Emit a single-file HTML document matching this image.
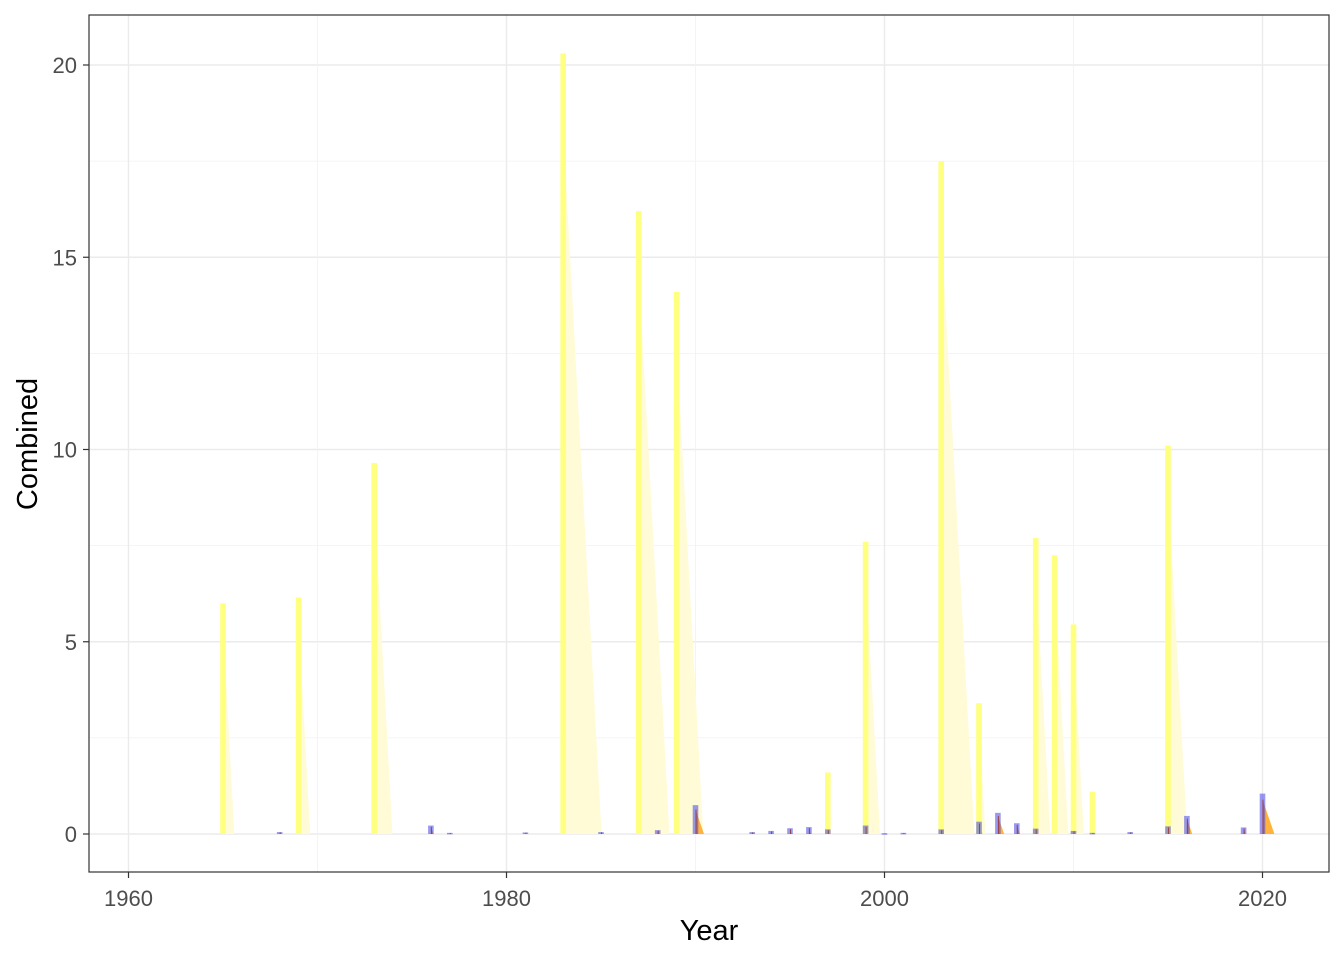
<!DOCTYPE html>
<html><head><meta charset="utf-8"><style>
body{margin:0;background:#fff;}
svg{display:block;font-family:"Liberation Sans",Arial,sans-serif;}
</style></head><body>
<svg id="chart" width="1344" height="960"></svg>
<script>
const yellowYears=[1965,1969,1973,1983,1987,1989,1997,1999,2003,2005,2008,2009,2010,2011,2015];
const yellowVals=[6.0,6.15,9.65,20.3,16.2,14.1,1.6,7.6,17.5,3.4,7.7,7.25,5.45,1.1,10.1];
const blueYears=[1968,1976,1977,1981,1985,1988,1990,1993,1994,1995,1996,1997,1999,2000,2001,2003,2005,2006,2007,2008,2010,2011,2013,2015,2016,2019,2020];
const blueVals=[0.05,0.22,0.03,0.04,0.05,0.1,0.75,0.05,0.08,0.15,0.18,0.12,0.22,0.02,0.03,0.12,0.32,0.55,0.28,0.14,0.08,0.03,0.05,0.2,0.47,0.17,1.05];
const xTicks=[1960,1980,2000,2020];
const yTicks=[0,5,10,15,20];

const svg=document.getElementById('chart');
const NS='http://www.w3.org/2000/svg';
const L=89,R=1329,T=15,B=872;
const x=v=>128.5+(v-1960)*18.9;
const y=v=>834-v*38.45;
function mk(tag,attrs,parent){const e=document.createElementNS(NS,tag);for(const k in attrs)e.setAttribute(k,attrs[k]);(parent||svg).appendChild(e);return e;}

const grid=mk('g',{});


for(let i=0;i<yTicks.length;i++){
  mk('line',{x1:L,x2:R,y1:y(yTicks[i]),y2:y(yTicks[i]),stroke:'#ebebeb','stroke-width':1.4},grid);
  if(i<yTicks.length-1){const m=(yTicks[i]+yTicks[i+1])/2;mk('line',{x1:L,x2:R,y1:y(m),y2:y(m),stroke:'#f2f2f2','stroke-width':0.8},grid);}
}
for(let i=0;i<xTicks.length;i++){
  mk('line',{x1:x(xTicks[i]),x2:x(xTicks[i]),y1:T,y2:B,stroke:'#ebebeb','stroke-width':1.4},grid);
  if(i<xTicks.length-1){const m=(xTicks[i]+xTicks[i+1])/2;mk('line',{x1:x(m),x2:x(m),y1:T,y2:B,stroke:'#f2f2f2','stroke-width':0.8},grid);}
}

yellowYears.forEach((yr,i)=>{
  const v=yellowVals[i];const d=v/10;
  const p=mk('polygon',{points:`${x(yr)},${y(v*0.9)} ${x(yr+d)},${y(0)} ${x(yr)},${y(0)}`,fill:'#fffbd6'});
  
  
});
blueYears.forEach((yr,i)=>{
  const v=blueVals[i];const d=v*0.6;
  const p=mk('polygon',{points:`${x(yr)},${y(v*0.85)} ${x(yr+d)},${y(0)} ${x(yr)},${y(0)}`,fill:'#ffb23c'});
  
  
});
yellowYears.forEach((yr,i)=>{
  const v=yellowVals[i];
  const r=mk('rect',{x:x(yr)-2.8,y:y(v),width:5.6,height:y(0)-y(v),fill:'#ffff80'});
  
  
});
blueYears.forEach((yr,i)=>{
  const v=blueVals[i];
  const r=mk('rect',{x:x(yr)-2.8,y:y(v),width:5.6,height:Math.max(1.5,y(0)-y(v)),fill:'rgba(70,70,230,0.55)'});
  
  
  const l=mk('line',{x1:x(yr)+0.5,x2:x(yr)+0.5,y1:y(0),y2:y(v*0.85),stroke:'rgba(150,50,50,0.8)','stroke-width':1});
  
  
});

const border=mk('rect',{x:L,y:T,width:R-L,height:B-T,fill:'none',stroke:'#333','stroke-width':1.2});



xTicks.forEach(t=>{
  mk('line',{x1:x(t),x2:x(t),y1:B,y2:B+6,stroke:'#333','stroke-width':1.2});
  const tx=mk('text',{x:x(t),y:906,'text-anchor':'middle','font-size':22,fill:'#4d4d4d'});
  tx.textContent=t;
  
  
});
yTicks.forEach(t=>{
  mk('line',{x1:L-6,x2:L,y1:y(t),y2:y(t),stroke:'#333','stroke-width':1.2});
  const tx=mk('text',{x:L-12,y:y(t)+8,'text-anchor':'end','font-size':22,fill:'#4d4d4d'});
  tx.textContent=t;
  
  
});
const xt=mk('text',{x:709,y:940,'text-anchor':'middle','font-size':29,fill:'#000'});
xt.textContent='Year';


const yt=mk('text',{x:0,y:0,transform:'translate(37,444) rotate(-90)','text-anchor':'middle','font-size':29,fill:'#000'});
yt.textContent='Combined';


</script>
</body></html>
